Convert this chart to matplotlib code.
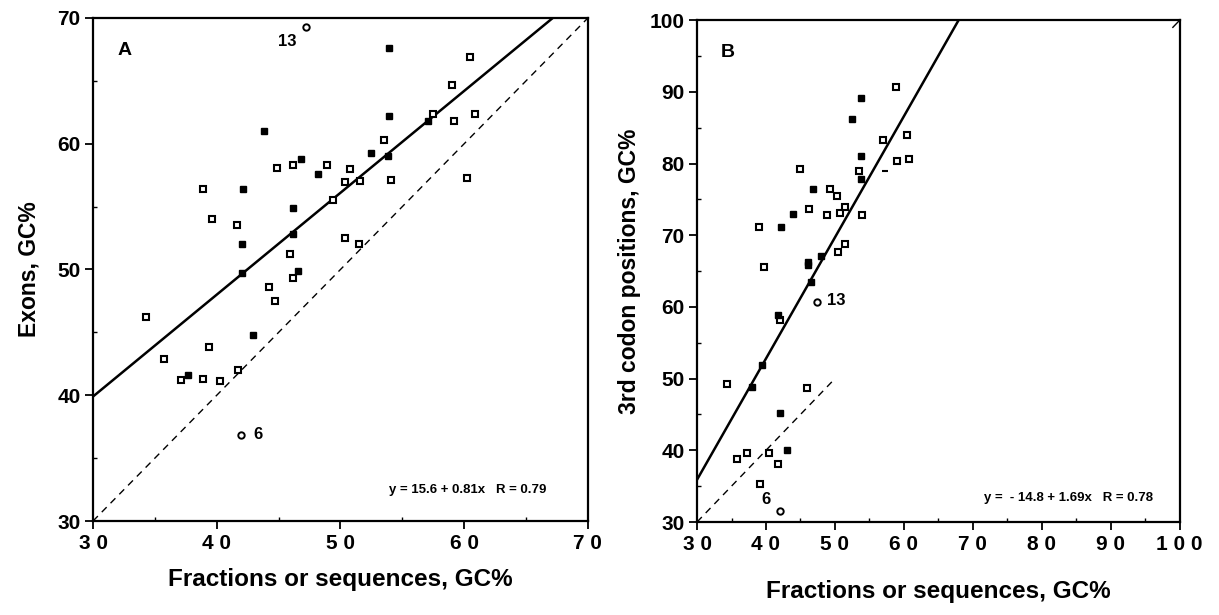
import matplotlib
matplotlib.use('Agg')
import matplotlib.pyplot as plt
from matplotlib.ticker import MultipleLocator
import numpy as np

plt.rcParams['font.family'] = ['Liberation Sans Narrow', 'Liberation Sans', 'DejaVu Sans']
plt.rcParams['font.weight'] = 'bold'

# panel A : exons GC% vs fractions GC%
a_open_x = [60.5, 59.0, 57.5, 59.2, 60.9, 53.5, 44.9, 46.15, 48.9, 50.75, 50.4, 51.6, 54.1,
            60.2, 38.9, 49.4, 39.6, 41.6, 50.4, 51.5, 45.9, 46.2, 44.2, 44.7, 34.3, 39.4,
            35.7, 37.1, 38.9, 40.25, 41.7]
a_open_y = [66.9, 64.7, 62.4, 61.8, 62.4, 60.3, 58.1, 58.3, 58.3, 58.0, 56.95, 57.0, 57.1,
            57.3, 56.4, 55.5, 54.0, 53.5, 52.5, 52.0, 51.25, 49.3, 48.6, 47.5, 46.2, 43.8,
            42.9, 41.2, 41.3, 41.1, 42.0]
a_filled_x = [53.9, 53.9, 57.1, 43.85, 52.5, 53.85, 46.8, 48.2, 42.1, 46.15, 42.05, 46.15,
              42.05, 46.55, 42.95, 37.7]
a_filled_y = [67.6, 62.2, 61.8, 61.0, 59.3, 59.0, 58.8, 57.6, 56.4, 54.85, 52.0, 52.8,
              49.7, 49.9, 44.8, 41.6]
a_circle_x = [47.2, 42.0]
a_circle_y = [69.25, 36.85]
a_circle_lab = ['13', '6']
a_lab_x = [45.7, 43.3]
a_lab_y = [68.1, 36.85]
a_fit = (15.6, 0.81)
a_eq = 'y = 15.6 + 0.81x   R = 0.79'

# panel B : 3rd codon positions GC% vs fractions GC%
b_open_x = [58.9, 56.9, 60.4, 59.05, 60.7, 45.0, 53.45, 49.3, 50.3, 46.2, 48.9, 50.8, 51.4,
            53.9, 39.0, 51.4, 50.4, 39.7, 42.1, 34.4, 45.9, 35.8, 37.3, 40.4, 41.8, 39.1]
b_open_y = [90.7, 83.3, 84.0, 80.3, 80.6, 79.3, 78.9, 76.4, 75.5, 73.6, 72.8, 73.1, 73.9,
            72.8, 71.1, 68.8, 67.6, 65.6, 58.2, 49.2, 48.7, 38.8, 39.6, 39.6, 38.1, 35.3]
b_filled_x = [53.8, 52.5, 53.8, 53.8, 46.8, 43.9, 42.2, 48.05, 46.1, 46.1, 46.6, 41.7, 39.4,
              37.9, 42.1, 43.1]
b_filled_y = [89.2, 86.2, 81.1, 77.9, 76.5, 72.9, 71.1, 67.1, 66.3, 65.8, 63.5, 58.9, 51.9,
              48.9, 45.2, 40.1]
b_dash_x = [57.3]
b_dash_y = [78.9]
b_circle_x = [47.4, 42.05]
b_circle_y = [60.7, 31.55]
b_circle_lab = ['13', '6']
b_lab_x = [50.2, 40.0]
b_lab_y = [60.9, 33.2]
b_fit = (-14.8, 1.69)
b_eq = 'y =  - 14.8 + 1.69x   R = 0.78'


def draw_panel(ax, xmax, ymax, open_x, open_y, filled_x, filled_y, circ_x, circ_y,
               circ_lab, lab_x, lab_y, fit, eq, eq_pos, letter, ylabel, diag_end,
               xpad, ypad):
    ax.set_xlim(30, xmax)
    ax.set_ylim(30, ymax)

    # regression line
    x_top = (ymax - fit[0]) / fit[1]
    xs = np.array([30, x_top])
    ax.plot(xs, fit[0] + fit[1] * xs, color='black', lw=1.8, solid_capstyle='butt')
    # y = x reference
    ax.plot([30, diag_end], [30, diag_end], color='black', lw=1.0, ls=(0, (5, 4)))

    ax.plot(open_x, open_y, 's', ms=4.6, mfc='white', mec='black', mew=1.5, ls='none')
    ax.plot(filled_x, filled_y, 's', ms=4.8, mfc='black', mec='black', mew=1.0, ls='none')
    ax.plot(circ_x, circ_y, 'o', ms=4.6, mfc='white', mec='black', mew=1.4, ls='none')
    for lx, ly, t in zip(lab_x, lab_y, circ_lab):
        ax.text(lx, ly, t, fontsize=12, fontweight='bold', ha='center', va='center')

    ax.text(eq_pos[0], eq_pos[1], eq, transform=ax.transAxes, fontsize=9.5,
            fontweight='bold', ha='right', va='center')
    ax.text(0.05, 0.935, letter, transform=ax.transAxes, fontsize=14,
            fontweight='bold', ha='left', va='center')

    ax.xaxis.set_major_locator(MultipleLocator(10))
    ax.yaxis.set_major_locator(MultipleLocator(10))
    ax.xaxis.set_minor_locator(MultipleLocator(5))
    ax.yaxis.set_minor_locator(MultipleLocator(5))
    xt = np.arange(30, xmax + 1, 10)
    ax.set_xticks(xt)
    ax.set_xticklabels([' '.join(str(int(v))) for v in xt])
    ax.tick_params(which='major', direction='out', length=6, width=1.3,
                   labelsize=15, pad=3)
    ax.tick_params(which='minor', direction='in', length=3, width=1.0)
    for lab in ax.get_xticklabels() + ax.get_yticklabels():
        lab.set_fontweight('bold')
    for sp in ax.spines.values():
        sp.set_linewidth(1.6)

    ax.set_xlabel('Fractions or sequences, GC%', fontsize=17.5, fontweight='bold',
                  labelpad=xpad)
    ax.set_ylabel(ylabel, fontsize=16.5, fontweight='bold', labelpad=ypad)


fig = plt.figure(figsize=(12.19, 6.15), dpi=100)
ax_a = fig.add_axes([0.0763, 0.1528, 0.406, 0.818])
ax_b = fig.add_axes([0.5718, 0.1512, 0.396, 0.816])

draw_panel(ax_a, 70, 70, a_open_x, a_open_y, a_filled_x, a_filled_y, a_circle_x,
           a_circle_y, a_circle_lab, a_lab_x, a_lab_y, a_fit, a_eq, (0.917, 0.062),
           'A', 'Exons, GC%', 70, 11, 12)
draw_panel(ax_b, 100, 100, b_open_x, b_open_y, b_filled_x, b_filled_y, b_circle_x,
           b_circle_y, b_circle_lab, b_lab_x, b_lab_y, b_fit, b_eq, (0.944, 0.048),
           'B', '3rd codon positions, GC%', 50, 19, 6)
ax_b.plot(b_dash_x, b_dash_y, '_', ms=5, mec='black', mew=1.5, ls='none')
# short stub of the y = x line at the top right corner
ax_b.plot([99, 100], [99, 100], color='black', lw=1.0)

fig.savefig('out.png', dpi=100)
